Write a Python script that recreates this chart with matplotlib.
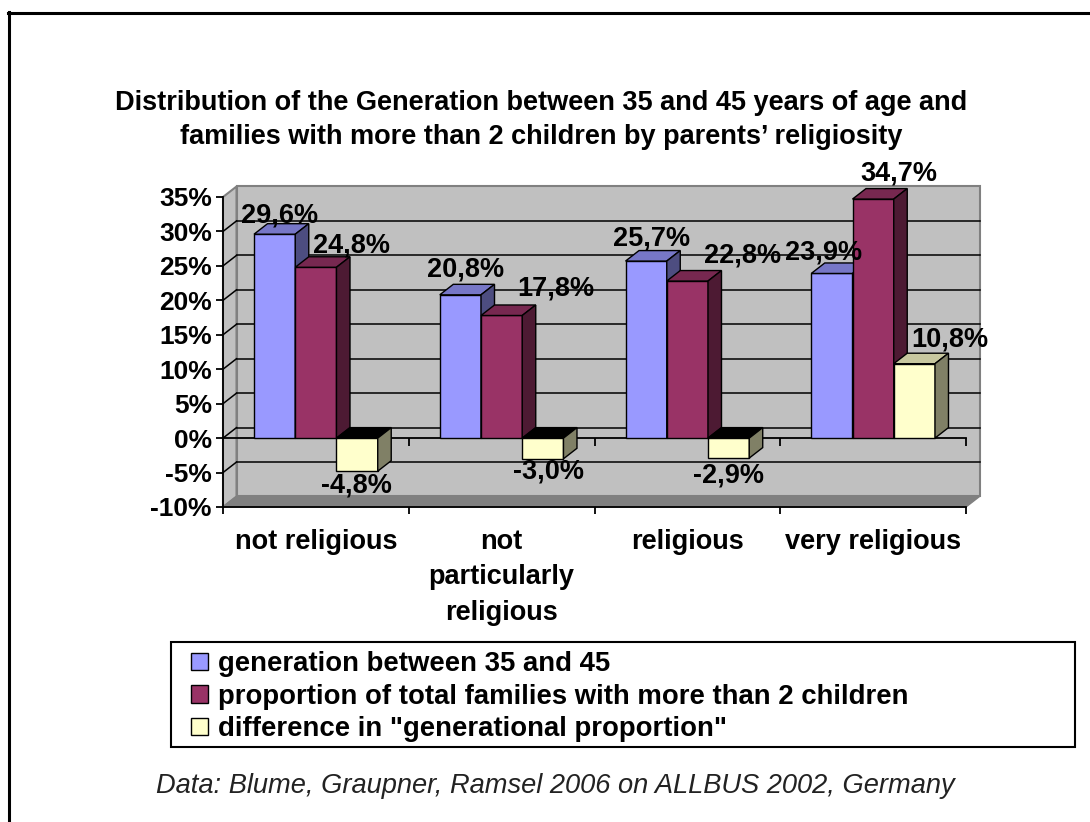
import numpy as np
import matplotlib.pyplot as plt
from matplotlib.patches import Polygon, Rectangle
from matplotlib.transforms import ScaledTranslation, IdentityTransform
from matplotlib.lines import Line2D
from matplotlib.colors import to_rgb

plt.rcParams['font.family'] = ['Liberation Sans', 'DejaVu Sans']

# data
categories = ['not religious', 'not\nparticularly\nreligious', 'religious', 'very religious']
series_names = ['generation between 35 and 45',
                'proportion of total families with more than 2 children',
                'difference in "generational proportion"']
generation = [29.6, 20.8, 25.7, 23.9]
big_families = [24.8, 17.8, 22.8, 34.7]
difference = [-4.8, -3.0, -2.9, 10.8]
y_ticks = [-10, -5, 0, 5, 10, 15, 20, 25, 30, 35]

series = [generation, big_families, difference]
face_colors = ['#9999FF', '#993366', '#FFFFCC']
# where each value label sits, in pixels from the bar end
label_nudge = [
    [(5, 19), (5, 25), (5, 23), (-8, 21)],
    [(36, 22), (54, 27), (55, 26), (26, 26)],
    [(-1, -14), (6, -13), (0, -17), (35, 24)],
]

W, H = 1090, 822
FS = 19.5

fig = plt.figure(figsize=(W / 100, H / 100), dpi=100)
ax = fig.add_axes([223 / W, 1 - 507 / H, 743 / W, 310 / H])
ax.set_xlim(0, 4)
ax.set_ylim(-10, 35)
ax.patch.set_visible(False)

# shift from the front plane to the back wall
depth = ScaledTranslation(0.135, 0.105, fig.dpi_scale_trans)
back_tr = ax.transData + depth


def fpt(x, y):
    return ax.transData.transform((x, y))


def bpt(x, y):
    return back_tr.transform((x, y))


def face(pts, fc, ec='black', lw=1.0, z=3):
    ax.add_patch(Polygon(pts, closed=True, transform=IdentityTransform(),
                         facecolor=fc, edgecolor=ec, linewidth=lw,
                         zorder=z, clip_on=False))


def shade(c, k):
    r, g, b = to_rgb(c)
    return (r * k, g * k, b * k)


# walls and floor
ax.add_patch(Rectangle((0, -10), 4, 45, transform=back_tr, facecolor='#C0C0C0',
                       edgecolor='#808080', linewidth=1.5, zorder=0.5, clip_on=False))
face([fpt(0, -10), bpt(0, -10), bpt(0, 35), fpt(0, 35)], '#C0C0C0', ec='#808080', lw=1.5, z=0.5)
face([fpt(0, -10), fpt(4, -10), bpt(4, -10), bpt(0, -10)], '#808080', ec='#808080', lw=1.0, z=0.6)

# gridlines on back wall and side wall
for y in y_ticks[1:-1]:
    ax.plot([0, 4], [y, y], color='black', lw=1.1, transform=back_tr, zorder=1, clip_on=False)
    p0, p1 = fpt(0, y), bpt(0, y)
    ax.add_line(Line2D([p0[0], p1[0]], [p0[1], p1[1]], color='black', lw=1.1,
                       transform=IdentityTransform(), zorder=1, clip_on=False))

# category axis at zero
ax.plot([0, 4], [0, 0], color='black', lw=1.3, zorder=2, clip_on=False)
ax.plot([1, 2, 3, 4], [0, 0, 0, 0], ls='none', marker=3, ms=6, mew=1.3,
        color='black', zorder=2, clip_on=False)

# bars
w = 0.222
for i in range(len(categories)):
    for s, vals in enumerate(series):
        v = vals[i]
        x0 = i + 0.5 + (s - 1.5) * w
        x1 = x0 + w
        lo, hi = min(v, 0), max(v, 0)
        col = face_colors[s]
        ax.add_patch(Rectangle((x0, lo), w, hi - lo, facecolor=col, edgecolor='black',
                               linewidth=1.0, zorder=3, clip_on=False))
        top_col = shade(col, 0.78) if v > 0 else 'black'
        face([fpt(x0, hi), fpt(x1, hi), bpt(x1, hi), bpt(x0, hi)], top_col)
        face([fpt(x1, lo), bpt(x1, lo), bpt(x1, hi), fpt(x1, hi)], shade(col, 0.5))
        txt = f"{v:.1f}%".replace('.', ',')
        ax.annotate(txt, xy=(x0 + w / 2, v), xytext=label_nudge[s][i],
                    textcoords='offset pixels', ha='center', va='center',
                    fontsize=FS, fontweight='bold', zorder=6, annotation_clip=False)

# axes
for side in ['top', 'right']:
    ax.spines[side].set_visible(False)
for side in ['left', 'bottom']:
    ax.spines[side].set_linewidth(1.3)
    ax.spines[side].set_zorder(2)
ax.set_yticks(y_ticks, [f"{t}%" for t in y_ticks])
ax.set_xticks([0, 1, 2, 3, 4], [])
ax.set_xticks([0.5, 1.5, 2.5, 3.5], categories, minor=True)
ax.tick_params(axis='y', length=5, width=1.3, pad=3, labelsize=19)
ax.tick_params(axis='x', which='major', length=5, width=1.3)
ax.tick_params(axis='x', which='minor', length=0, pad=16, labelsize=FS)
for lbl in ax.get_yticklabels() + ax.get_xticklabels(minor=True):
    lbl.set_fontweight('bold')
for lbl in ax.get_xticklabels(minor=True):
    lbl.set_linespacing(1.46)

# title
fig.text(541 / W, 1 - 120 / H,
         'Distribution of the Generation between 35 and 45 years of age and\n'
         'families with more than 2 children by parents\u2019 religiosity',
         ha='center', va='center', fontsize=FS, fontweight='bold', linespacing=1.45)

# legend
handles = [Rectangle((0, 0), 1, 1, facecolor=c, edgecolor='black', linewidth=1.0)
           for c in face_colors]
fig.legend(handles, series_names, loc='upper left', bbox_to_anchor=(191 / W, 1 - 651 / H),
           frameon=False, prop={'size': 19.8, 'weight': 'bold'}, handlelength=0.6,
           handleheight=0.6, handletextpad=0.4, labelspacing=0.24,
           borderpad=0, borderaxespad=0)
fig.add_artist(Rectangle((171 / W, 1 - 747 / H), 904 / W, 105 / H, transform=fig.transFigure,
                         fill=False, edgecolor='black', linewidth=1.5))

# source note
fig.text(555 / W, 1 - 786 / H, 'Data: Blume, Graupner, Ramsel 2006 on ALLBUS 2002, Germany',
         ha='center', va='center', fontsize=19.6, style='italic', color='#222222')

# outer frame
fig.add_artist(Line2D([9 / W, 9 / W], [0, 1 - 12 / H], transform=fig.transFigure,
                      color='black', lw=2.2))
fig.add_artist(Line2D([8 / W, 1], [1 - 13 / H, 1 - 13 / H], transform=fig.transFigure,
                      color='black', lw=2.2))

fig.savefig('out.png', dpi=100)
